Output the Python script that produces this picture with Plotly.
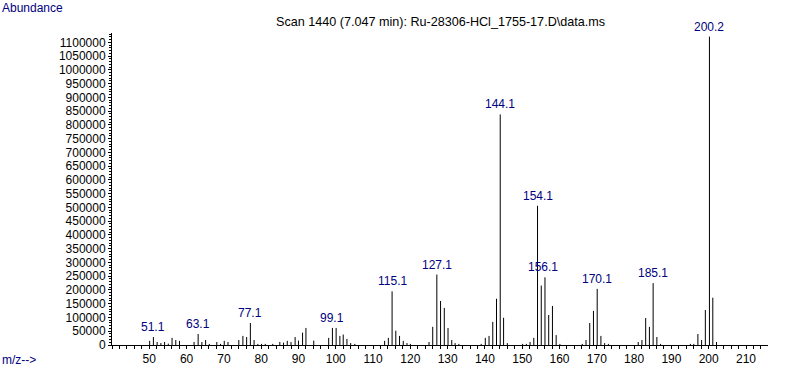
import plotly.graph_objects as go

# m/z values and abundances
mz = [50.1, 51.1, 52.1, 53.1, 54.1, 55.1, 56.1, 57.1, 58.1,
      62.0, 63.1, 64.1, 65.1, 66.1, 68.1, 69.1, 70.1, 71.1,
      74.0, 75.1, 76.1, 77.1, 78.1, 79.1, 80.1, 81.1, 83.1,
      85.0, 86.0, 87.0, 88.0, 89.1, 90.0, 91.1, 92.0, 94.1,
      98.1, 99.1, 100.1, 101.1, 102.0, 103.0, 104.0, 105.1,
      113.1, 114.1, 115.1, 116.1, 117.1, 118.1, 119.1, 120.0,
      125.0, 126.0, 127.1, 128.1, 129.1, 130.1, 131.1, 132.0, 133.0,
      139.0, 140.1, 141.1, 142.1, 143.1, 144.1, 145.0, 146.0,
      150.1, 151.1, 152.1, 153.1, 154.1, 155.1, 156.1, 157.1, 158.1, 159.1, 160.1,
      166.1, 167.1, 168.1, 169.1, 170.1, 171.1, 172.1, 173.1,
      181.1, 182.1, 183.1, 184.1, 185.1, 186.1, 187.1,
      195.1, 196.0, 197.1, 198.1, 199.1, 200.2, 201.1, 202.1]
abundance = [15000, 29000, 11000, 7000, 11000, 5000, 26000, 18000, 15000,
             11000, 40000, 11000, 18000, 4000, 11000, 4000, 15000, 11000,
             18000, 33000, 29000, 80000, 18000, 4000, 4000, 4000, 4000,
             11000, 8500, 15000, 11000, 29000, 16000, 45000, 62000, 16000,
             26000, 62000, 62000, 33000, 38000, 22000, 7000, 4000,
             15000, 26000, 195000, 52000, 33000, 15000, 7000, 4000,
             11000, 66000, 256000, 160000, 135000, 62000, 18000, 7000, 4000,
             4000, 26000, 33000, 84000, 168000, 838000, 99000, 7000,
             4000, 4000, 11000, 26000, 506000, 216000, 246000, 109000, 142000, 36000, 4000,
             4000, 18000, 80000, 124000, 204000, 33000, 7000, 4000,
             11000, 18000, 98000, 66000, 225000, 29000, 4000,
             4000, 4000, 40000, 18000, 127000, 1121000, 172000, 11000]

label_mz = [51.1, 63.1, 77.1, 99.1, 115.1, 127.1, 144.1, 154.1, 156.1, 170.1, 185.1, 200.2]

title_text = "Scan 1440 (7.047 min): Ru-28306-HCl_1755-17.D\\data.ms"
y_tick_vals = list(range(0, 1100001, 50000))
x_tick_vals = list(range(50, 211, 10))

NAVY = "#000080"
FONT = "Liberation Sans, Arial, sans-serif"

xs, ys = [], []
for m, a in zip(mz, abundance):
    xs += [m, m, None]
    ys += [0, a, None]

fig = go.Figure()
fig.add_trace(go.Scatter(x=xs, y=ys, mode="lines",
                         line=dict(color="black", width=1),
                         hoverinfo="skip", showlegend=False))

lookup = dict(zip(mz, abundance))
for m in label_mz:
    fig.add_annotation(x=m, y=lookup[m], text=f"{m:.1f}", showarrow=False,
                       xanchor="center", yanchor="bottom", yshift=1,
                       xshift=-2 if m == 156.1 else 0,
                       font=dict(color=NAVY, size=12, family=FONT))

L, R, T, B = 112, 19, 33, 22
PW, PH = 787 - L - R, 367 - T - B

def px_x(p):
    return (p - L) / PW

def px_y(p):
    return (367 - B - p) / PH

fig.add_annotation(xref="paper", yref="paper", x=px_x(441), y=px_y(22), text=title_text,
                   showarrow=False, xanchor="center", yanchor="middle",
                   font=dict(color="black", size=12.6, family=FONT))
fig.add_annotation(xref="paper", yref="paper", x=px_x(0), y=px_y(8), text="Abundance",
                   showarrow=False, xanchor="left", yanchor="middle",
                   font=dict(color=NAVY, size=12, family=FONT))
fig.add_annotation(xref="paper", yref="paper", x=px_x(0), y=px_y(360), text="m/z-->",
                   showarrow=False, xanchor="left", yanchor="middle",
                   font=dict(color=NAVY, size=12, family=FONT))

fig.update_layout(
    width=787, height=367,
    margin=dict(l=L, r=R, t=T, b=B, pad=0),
    plot_bgcolor="white", paper_bgcolor="white",
    font=dict(family=FONT, size=12, color="black"),
    showlegend=False,
)
fig.update_xaxes(range=[40, 215.9], tickvals=x_tick_vals, showgrid=False, zeroline=False,
                 automargin=False,
                 showline=True, linecolor="black", linewidth=1,
                 ticks="outside", ticklen=3, tickcolor="black", tickwidth=1,
                 minor=dict(dtick=2, tick0=40, ticks="outside", ticklen=3, tickcolor="black"),
                 tickfont=dict(size=12, family=FONT, color="black"))
fig.update_yaxes(range=[0, 1134000], tickvals=y_tick_vals, tickformat="d",
                 showgrid=False, zeroline=False, automargin=False,
                 showline=True, linecolor="black", linewidth=1,
                 ticks="outside", ticklen=3, tickcolor="black", tickwidth=1,
                 minor=dict(dtick=10000, tick0=0, ticks="outside", ticklen=2, tickcolor="black"),
                 tickfont=dict(size=12, family=FONT, color="black"))

fig.write_html("out.html", config={"displayModeBar": False, "staticPlot": True},
               post_script="document.body.style.margin='0';document.body.style.overflow='hidden';")
